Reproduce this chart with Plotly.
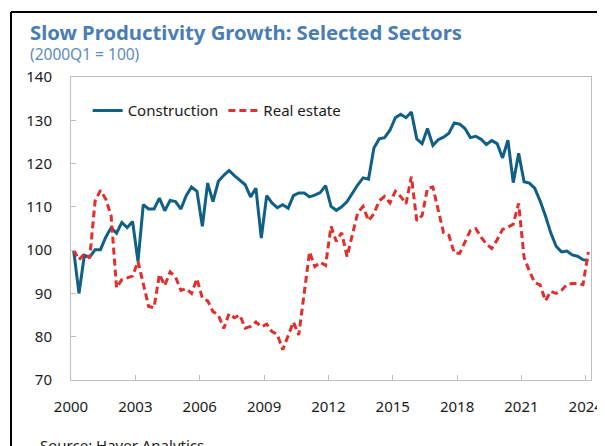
import plotly.graph_objects as go
import pandas as pd

# quarters 2000Q1 .. 2024Q1
quarters = [f"{y}Q{q}" for y in range(2000, 2025) for q in range(1, 5)][:97]

construction = [
    100.0, 90.0, 98.8, 98.4, 100.1, 100.1, 103.0, 105.2, 103.9, 106.4,
    105.2, 106.6, 97.4, 110.5, 109.5, 109.5, 112.0, 109.1, 111.5, 111.2,
    109.5, 112.6, 114.6, 113.6, 105.5, 115.5, 111.2, 115.9, 117.3, 118.4,
    117.2, 116.1, 115.1, 112.3, 114.3, 102.8, 112.6, 110.9, 109.8, 110.5,
    109.7, 112.6, 113.2, 113.2, 112.3, 112.7, 113.3, 114.9, 110.1, 109.2,
    110.0, 111.2, 113.3, 115.1, 116.7, 116.4, 123.6, 125.7, 126.0, 127.7,
    130.6, 131.4, 130.6, 131.9, 125.7, 124.6, 128.1, 124.2, 125.5, 126.1,
    127.0, 129.4, 129.1, 128.1, 126.0, 126.3, 125.6, 124.4, 125.3, 124.6,
    121.3, 125.4, 115.6, 122.4, 115.8, 115.5, 114.3, 111.4, 107.9, 104.0,
    100.9, 99.6, 99.8, 98.9, 98.6, 97.8, 97.6,
]

real_estate = [
    100.0, 97.8, 99.1, 98.2, 111.4, 113.8, 111.8, 107.9, 91.3, 93.2,
    93.6, 94.0, 97.4, 92.0, 87.0, 86.7, 94.4, 91.8, 95.0, 93.8,
    90.7, 91.1, 90.0, 93.4, 88.9, 88.3, 85.8, 85.0, 81.9, 85.3,
    84.4, 85.0, 82.0, 82.4, 83.4, 82.3, 82.9, 81.2, 80.5, 77.0,
    80.2, 83.4, 80.4, 89.7, 99.6, 96.2, 97.2, 96.5, 105.5, 102.0,
    104.0, 98.5, 104.0, 108.7, 110.1, 106.8, 108.4, 111.4, 112.4, 110.9,
    113.6, 112.4, 110.7, 117.0, 106.8, 108.0, 114.3, 114.6, 109.2, 104.0,
    103.4, 99.3, 99.3, 101.8, 104.5, 105.0, 103.0, 101.4, 100.4, 102.4,
    104.8, 105.3, 106.0, 110.8, 98.3, 95.2, 92.5, 92.0, 88.3, 90.5,
    90.0, 90.7, 92.1, 92.3, 92.3, 92.0, 99.6,
]

year_ticks = ["2000", "2003", "2006", "2009", "2012", "2015", "2018", "2021", "2024"]
y_ticks = [70, 80, 90, 100, 110, 120, 130, 140]

# plot each quarter at its middle
dates = pd.PeriodIndex(quarters, freq="Q").to_timestamp() + pd.Timedelta(days=45)

FONT = "Noto Sans"
AXIS_GREY = "#BFBFBF"
# the page body has an 8px margin, so the figure is drawn 8px in from the corner
W, H = 597, 438

fig = go.Figure()
fig.add_trace(go.Scatter(x=dates, y=construction, name="Construction", mode="lines",
                         line=dict(color="#0F5F87", width=3)))
fig.add_trace(go.Scatter(x=dates, y=real_estate, name="Real estate", mode="lines",
                         line=dict(color="#E0302E", width=3, dash="7px,4px")))

fig.update_layout(
    width=W, height=H,
    margin=dict(l=63, r=14, t=69, b=66, autoexpand=False),
    paper_bgcolor="white", plot_bgcolor="white",
    font=dict(family=FONT, size=15, color="#1a1a1a"),
    showlegend=True,
    title=dict(text="<b>Slow Productivity Growth: Selected Sectors</b>",
               font=dict(family=FONT, size=20.3, color="#4A7DB3"),
               xref="container", x=22 / W, xanchor="left",
               yref="container", y=1 - 25 / H, yanchor="middle"),
    legend=dict(orientation="h", x=0.032, xanchor="left", y=0.889, yanchor="middle",
                bgcolor="rgba(0,0,0,0)", font=dict(size=15, color="#1a1a1a"),
                itemwidth=30, tracegroupgap=0),
    xaxis=dict(type="date", range=["2000-01-01", "2024-03-31"], automargin=False,
               tickvals=[f"{y}-01-01" for y in year_ticks], ticktext=year_ticks,
               ticks="inside", ticklen=5, tickcolor=AXIS_GREY, ticklabelstandoff=13,
               showline=True, linecolor=AXIS_GREY, linewidth=1, mirror=True,
               showgrid=False, zeroline=False, tickfont=dict(size=15)),
    yaxis=dict(range=[70, 140], tickvals=y_ticks, automargin=False,
               ticks="inside", ticklen=5, tickcolor=AXIS_GREY, ticklabelstandoff=15,
               showline=True, linecolor=AXIS_GREY, linewidth=1, mirror=True,
               showgrid=False, zeroline=False, tickfont=dict(size=15)),
)

fig.add_annotation(text="(2000Q1 = 100)", xref="paper", yref="paper",
                   x=(28 - 71) / 520, y=(380 - 54) / 303, xanchor="left", yanchor="middle",
                   showarrow=False, font=dict(family=FONT, size=15.5, color="#5B8CC0"))
fig.add_annotation(text="Source: Haver Analytics.", xref="paper", yref="paper",
                   x=(38 - 71) / 520, y=(380 - 433) / 303, xanchor="left", yanchor="top",
                   showarrow=False, font=dict(family=FONT, size=15, color="#1a1a1a"))

# black frame of the original exhibit (left and top edges)
fig.add_shape(type="line", xref="paper", yref="paper",
              x0=(11 - 71) / 520, x1=(11 - 71) / 520, y0=(380 - 12) / 303, y1=-0.25,
              line=dict(color="black", width=2))
fig.add_shape(type="line", xref="paper", yref="paper",
              x0=(11 - 71) / 520, x1=1.1, y0=(380 - 12) / 303, y1=(380 - 12) / 303,
              line=dict(color="black", width=2))

fig.write_html("out.html")
